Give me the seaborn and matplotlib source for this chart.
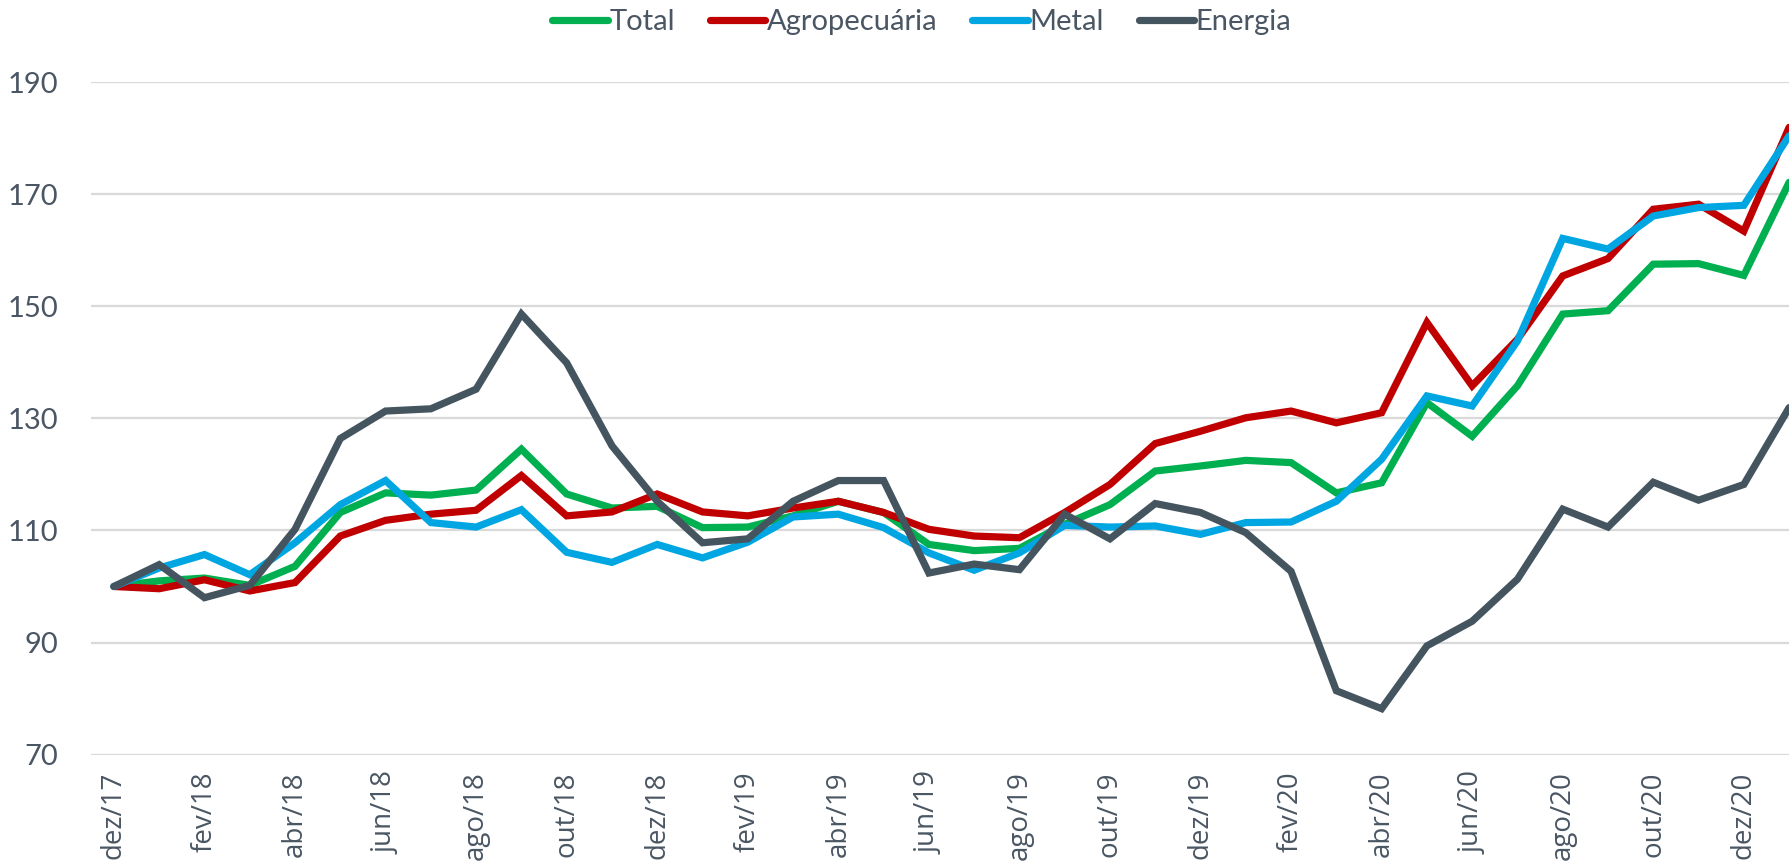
import numpy as np
import pandas as pd
import matplotlib
matplotlib.use("Agg")
import matplotlib.pyplot as plt
import seaborn as sns

# Indices de preços de commodities (base dez/17 = 100)
meses = ["dez/17", "jan/18", "fev/18", "mar/18", "abr/18", "mai/18", "jun/18", "jul/18",
         "ago/18", "set/18", "out/18", "nov/18", "dez/18", "jan/19", "fev/19", "mar/19",
         "abr/19", "mai/19", "jun/19", "jul/19", "ago/19", "set/19", "out/19", "nov/19",
         "dez/19", "jan/20", "fev/20", "mar/20", "abr/20", "mai/20", "jun/20", "jul/20",
         "ago/20", "set/20", "out/20", "nov/20", "dez/20", "jan/21"]

total = [100.0, 101.0, 101.5, 100.2, 103.6, 113.2, 116.7, 116.3, 117.2, 124.5, 116.5, 114.0,
         114.3, 110.5, 110.6, 112.6, 115.2, 113.2, 107.5, 106.4, 106.8, 111.1, 114.6, 120.6,
         121.5, 122.5, 122.1, 116.7, 118.5, 132.8, 126.8, 135.8, 148.6, 149.2, 157.5, 157.6,
         155.5, 172.1]
agropecuaria = [100.0, 99.6, 101.2, 99.2, 100.7, 109.0, 111.8, 112.9, 113.6, 119.8, 112.6, 113.3,
                116.5, 113.3, 112.6, 114.0, 115.2, 113.2, 110.2, 109.0, 108.7, 113.2, 118.2, 125.5,
                127.7, 130.1, 131.3, 129.2, 131.0, 147.1, 135.8, 144.1, 155.4, 158.5, 167.3, 168.2,
                163.4, 181.9]
metal = [100.0, 103.3, 105.7, 102.1, 107.8, 114.6, 118.9, 111.4, 110.6, 113.7, 106.1, 104.3,
         107.5, 105.1, 107.9, 112.4, 112.9, 110.5, 106.0, 102.9, 106.0, 110.9, 110.6, 110.8,
         109.3, 111.4, 111.5, 115.2, 122.7, 134.0, 132.2, 143.8, 162.1, 160.2, 166.1, 167.6,
         168.0, 180.4]
energia = [100.0, 103.9, 98.0, 100.2, 110.2, 126.4, 131.3, 131.7, 135.2, 148.6, 139.9, 125.1,
           115.2, 107.8, 108.5, 115.2, 118.9, 118.9, 102.4, 104.0, 103.0, 112.9, 108.5, 114.8,
           113.2, 109.6, 102.7, 81.4, 78.2, 89.4, 93.8, 101.3, 113.8, 110.6, 118.6, 115.4,
           118.2, 131.9]

series = ["Total", "Agropecuária", "Metal", "Energia"]
cores = ["#00B050", "#C00000", "#00A6E2", "#455560"]
y_ticks = [70, 90, 110, 130, 150, 170, 190]

df = pd.DataFrame({"mes": np.arange(len(meses)), "Total": total,
                   "Agropecuária": agropecuaria, "Metal": metal, "Energia": energia})
longo = df.melt(id_vars="mes", value_vars=series, var_name="serie", value_name="indice")

sns.set_theme(style="white")
plt.rcParams["font.family"] = ["Lato", "DejaVu Sans"]
cor_texto = "#4A5663"

fig = plt.figure(figsize=(17.9, 8.67), dpi=100)
ax = fig.add_axes([0.051, 0.1296, 0.949, 0.7758])

sns.lineplot(data=longo, x="mes", y="indice", hue="serie", hue_order=series,
             palette=cores, linewidth=5.2, ax=ax, legend=False,
             solid_joinstyle="miter")

ax.set_xlim(-0.5, 37.02)
ax.set_ylim(70, 190)
ax.set_yticks(y_ticks)
ax.set_xticks(np.arange(0, len(meses), 2))
ax.set_xticklabels(meses[::2], rotation=90, family=["Open Sans", "DejaVu Sans"],
                   fontsize=20, color=cor_texto)
ax.tick_params(axis="y", labelsize=21, colors=cor_texto, length=0, pad=24)
ax.tick_params(axis="x", length=0, pad=12)
ax.set_xlabel("")
ax.set_ylabel("")
ax.yaxis.grid(True, color="#D9D9D9", linewidth=1.6)
ax.set_axisbelow(True)
for s in ax.spines.values():
    s.set_visible(False)

handles = [plt.Line2D([0], [0], color=c, lw=5.2, solid_capstyle="round") for c in cores]
leg = fig.legend(handles, series, loc="upper center", bbox_to_anchor=(0.515, 1.02),
                 ncol=4, frameon=False, fontsize=21, handlelength=1.9,
                 handletextpad=0.05, columnspacing=1.2)
for t in leg.get_texts():
    t.set_color(cor_texto)

fig.savefig("out.png", dpi=100)
